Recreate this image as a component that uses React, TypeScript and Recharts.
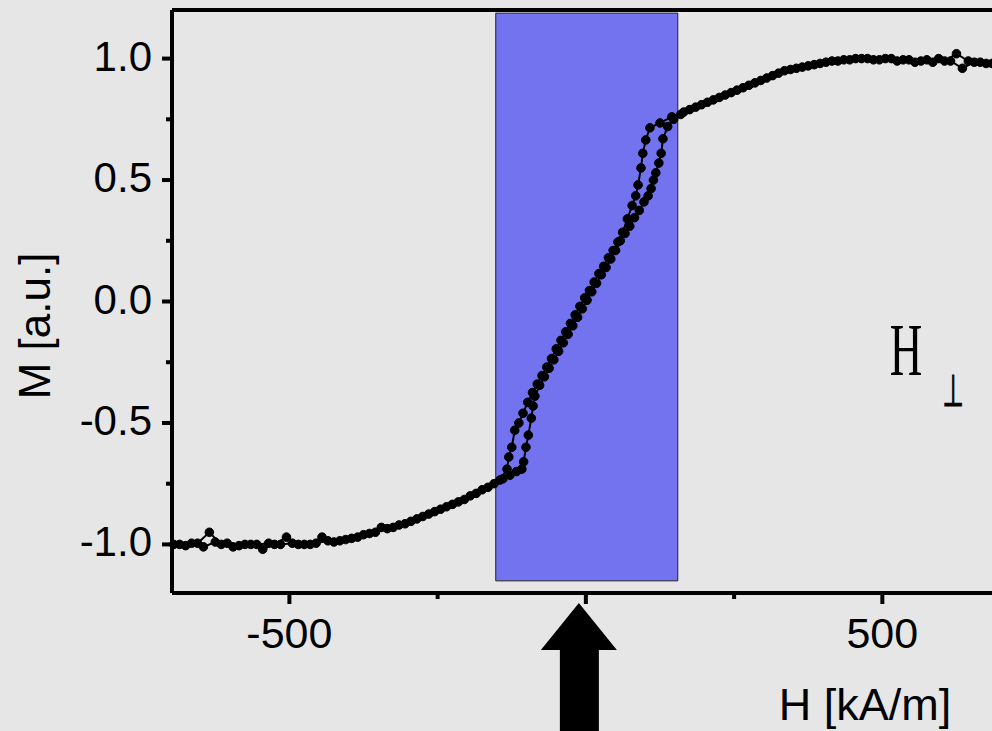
import React from 'react';
import {
  ComposedChart,
  Line,
  XAxis,
  YAxis,
  ReferenceArea,
  ReferenceLine,
  ReferenceDot,
} from 'recharts';

// descending branch, +H saturation -> -H saturation
const descH = [
  685, 665, 645, 625, 605, 585, 565, 545, 525, 505, 485, 465, 445, 425, 405, 385, 365, 345, 325, 305,
  285, 265, 245, 225, 205, 185, 165, 145, 125,
  108, 101, 96, 93, 88, 84,
  78, 70, 62, 54, 46, 38, 30, 22, 14, 6, -2, -10, -18, -26, -34, -42, -50, -58, -66, -74, -82, -90,
  -98, -106, -113,
  -120, -125, -130, -133,
  -145, -165, -185, -205, -225, -245, -265, -285, -305, -325, -345, -365, -385, -405, -425, -445,
  -465, -485, -505, -525, -545, -565, -585, -605, -625, -645, -665, -685,
];
const descM = [
  0.98, 0.985, 0.99, 1.02, 0.99, 0.985, 0.99, 0.995, 0.99, 1.0, 0.995, 1.0, 0.995, 0.99, 0.985, 0.975,
  0.965, 0.955, 0.94, 0.92, 0.9, 0.88, 0.86, 0.84, 0.82, 0.8, 0.78, 0.76, 0.735,
  0.715, 0.665, 0.61, 0.55, 0.48, 0.435,
  0.395, 0.34, 0.285, 0.245, 0.21, 0.18, 0.145, 0.115, 0.08, 0.045, 0.015, -0.02, -0.055, -0.09,
  -0.125, -0.16, -0.195, -0.235, -0.27, -0.305, -0.34, -0.375, -0.415, -0.46, -0.5,
  -0.53, -0.6, -0.64, -0.69,
  -0.735, -0.765, -0.79, -0.815, -0.835, -0.855, -0.875, -0.895, -0.915, -0.93, -0.93, -0.955, -0.97,
  -0.98, -0.99, -0.97, -1.0, -1.0, -0.97, -1.0, -1.02, -1.0, -1.005, -0.995, -0.99, -1.01, -0.995, -1.0,
];

// ascending branch, -H saturation -> +H saturation
const ascH = [
  -695, -675, -655, -635, -615, -595, -575, -555, -535, -515, -495, -475, -455, -435, -415, -395, -375,
  -355, -335, -315, -295, -275, -255, -235, -215, -195, -175, -155, -140, -128, -117,
  -108, -105, -101, -97, -92, -89, -86,
  -78, -70, -62, -54, -46, -38, -30, -22, -14, -6, 2, 10, 18, 26, 34, 42, 50, 58, 66, 74, 82, 90, 98,
  105, 110, 114,
  118, 123, 127, 130,
  138, 148, 160, 175, 195, 215, 235, 255, 275, 295, 315, 335, 355, 375, 395, 415, 435, 455, 475, 495,
  515, 535, 555, 575, 595, 615, 635, 655, 675, 690,
];
const ascM = [
  -1.0, -1.005, -0.995, -0.95, -1.0, -1.01, -1.0, -1.0, -0.995, -1.0, -0.995, -1.0, -0.995, -0.985,
  -0.985, -0.975, -0.96, -0.95, -0.935, -0.92, -0.905, -0.885, -0.865, -0.845, -0.825, -0.8, -0.775,
  -0.75, -0.73, -0.715, -0.7,
  -0.69, -0.66, -0.6, -0.55, -0.48, -0.43, -0.39,
  -0.345, -0.31, -0.275, -0.24, -0.205, -0.17, -0.135, -0.1, -0.065, -0.03, 0.005, 0.04, 0.075, 0.11,
  0.14, 0.175, 0.21, 0.25, 0.28, 0.31, 0.345, 0.375, 0.41,
  0.435, 0.465, 0.5,
  0.53, 0.57, 0.61, 0.67,
  0.72, 0.75, 0.77, 0.79, 0.81, 0.83, 0.85, 0.87, 0.89, 0.91, 0.93, 0.95, 0.96, 0.97, 0.98, 0.99,
  0.995, 1.0, 1.0, 0.995, 1.0, 0.995, 0.985, 0.995, 1.0, 0.99, 0.96, 0.985, 0.98, 0.985,
];

const xTicks = [-500, -250, 0, 250, 500];
const xMajor = [-500, 0, 500];
const yTicks = [-1, -0.75, -0.5, -0.25, 0, 0.25, 0.5, 0.75, 1];
const yMajor = [-1, -0.5, 0, 0.5, 1];

const desc = descH.map((h, i) => ({ h, m: descM[i] }));
const asc = ascH.map((h, i) => ({ h, m: ascM[i] }));

const FONT = 'Liberation Sans, Arial, sans-serif';

const XTick = (props: any) => {
  const { x, y, payload } = props;
  const major = xMajor.includes(payload.value);
  return (
    <g>
      <line x1={x} x2={x} y1={y} y2={y + (major ? 11 : 6)} stroke="#000" strokeWidth={4} />
      {major && (
        <text x={x} y={y + 55} textAnchor="middle" fontSize={43} fontFamily={FONT} fill="#000">
          {payload.value}
        </text>
      )}
    </g>
  );
};

const YTick = (props: any) => {
  const { x, y, payload } = props;
  const major = yMajor.includes(payload.value);
  return (
    <g>
      <line x1={x - (major ? 10 : 6)} x2={x} y1={y} y2={y} stroke="#000" strokeWidth={4} />
      {major && (
        <text x={x - 20} y={y + 12} textAnchor="end" fontSize={42} fontFamily={FONT} fill="#000">
          {payload.value.toFixed(1)}
        </text>
      )}
    </g>
  );
};

const XLabel = () => (
  <text x={865} y={720} textAnchor="middle" fontSize={45} fontFamily={FONT} fill="#000">
    H [kA/m]
  </text>
);

const YLabel = () => (
  <text
    x={50}
    y={326}
    textAnchor="middle"
    fontSize={44}
    fontFamily={FONT}
    fill="#000"
    transform="rotate(-90 50 326)"
  >
    M [a.u.]
  </text>
);

const Arrow = (props: any) => {
  const { cx, cy } = props;
  const pts = [
    [cx - 7, cy + 10],
    [cx + 31, cy + 57],
    [cx + 13, cy + 57],
    [cx + 13, cy + 150],
    [cx - 26, cy + 150],
    [cx - 26, cy + 57],
    [cx - 45, cy + 57],
  ]
    .map((p) => p.join(','))
    .join(' ');
  return <polygon points={pts} fill="#000" />;
};

const FieldMark = (props: any) => {
  const { cx, cy } = props;
  return (
    <g>
      <text
        transform={`translate(${cx},${cy + 25}) scale(0.6,1)`}
        textAnchor="middle"
        fontSize={75}
        fontFamily="Liberation Serif, serif"
        fill="#000"
      >
        H
      </text>
      <text
        transform={`translate(${cx + 47},${cy + 56}) scale(0.55,1)`}
        textAnchor="middle"
        fontSize={44}
        fontFamily="DejaVu Sans, sans-serif"
        fill="#000"
        stroke="#000"
        strokeWidth={1.2}
      >
        ⊥
      </text>
    </g>
  );
};

export default function App() {
  return (
    <div
      style={{
        position: 'absolute',
        left: 0,
        top: 0,
        width: 992,
        height: 731,
        overflow: 'hidden',
        background: '#e6e6e6',
      }}
    >
      <ComposedChart width={1000} height={731} margin={{ top: 10, right: 5, left: 0, bottom: 0 }}>
        <XAxis
          type="number"
          dataKey="h"
          domain={[-698, 690]}
          ticks={xTicks}
          interval={0}
          tickSize={0}
          tickMargin={0}
          tickLine={false}
          tick={<XTick />}
          axisLine={{ stroke: '#000', strokeWidth: 4 }}
          height={138}
          label={<XLabel />}
        />
        <YAxis
          type="number"
          domain={[-1.2, 1.2]}
          ticks={yTicks}
          interval={0}
          tickSize={0}
          tickMargin={0}
          tickLine={false}
          tick={<YTick />}
          axisLine={{ stroke: '#000', strokeWidth: 4 }}
          width={172}
          label={<YLabel />}
        />
        <ReferenceArea
          x1={-152}
          x2={155}
          y1={-1.15}
          y2={1.187}
          fill="#7373f0"
          fillOpacity={1}
          stroke="#222"
          strokeWidth={1}
        />
        <ReferenceLine y={1.2} stroke="#000" strokeWidth={4} />
        <Line
          data={asc}
          dataKey="m"
          stroke="#000"
          strokeWidth={2}
          dot={{ r: 4.3, fill: '#000', stroke: '#000', strokeWidth: 1 }}
          activeDot={false}
          isAnimationActive={false}
        />
        <Line
          data={desc}
          dataKey="m"
          stroke="#000"
          strokeWidth={2}
          dot={{ r: 4.3, fill: '#000', stroke: '#000', strokeWidth: 1 }}
          activeDot={false}
          isAnimationActive={false}
        />
        <ReferenceDot x={0} y={-1.2} r={0} ifOverflow="visible" shape={<Arrow />} />
        <ReferenceDot x={540} y={-0.2} r={0} shape={<FieldMark />} />
      </ComposedChart>
    </div>
  );
}
